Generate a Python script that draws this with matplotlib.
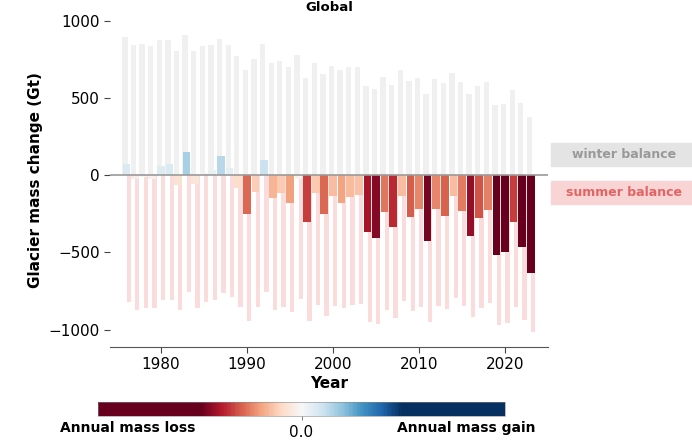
import numpy as np
import matplotlib
matplotlib.use("Agg")
import matplotlib.pyplot as plt
from matplotlib.colors import Normalize
from matplotlib.cm import ScalarMappable
from matplotlib.patches import Rectangle

# ---------- data (Gt) ----------
years = list(range(1976, 2024))

winter = [894, 840, 845, 836, 875, 875, 804, 909, 800, 836,
          840, 881, 842, 771, 681, 754, 851, 724, 737, 700,
          776, 631, 724, 651, 705, 679, 698, 700, 575, 554,
          633, 586, 679, 608, 631, 524, 623, 597, 659, 605,
          524, 577, 601, 452, 459, 552, 468, 379]

summer = [-823, -870, -858, -858, -810, -808, -870, -758, -860, -823,
          -808, -761, -791, -853, -942, -855, -756, -875, -853, -886,
          -802, -942, -843, -909, -845, -860, -840, -832, -948, -963,
          -875, -922, -817, -879, -853, -950, -845, -864, -795, -845,
          -916, -858, -830, -970, -957, -855, -937, -1015]

annual = [69, -28, -13, -22, 60, 69, -65, 149, -58, 13,
          30, 123, 45, -80, -254, -108, 95, -151, -118, -183,
          -24, -306, -118, -254, -136, -179, -140, -129, -371, -407,
          -239, -334, -138, -271, -218, -425, -218, -263, -138, -231,
          -392, -280, -224, -515, -496, -306, -467, -634]

yticks = [1000, 500, 0, -500, -1000]
xticks = [1980, 1990, 2000, 2010, 2020]

# ---------- figure ----------
fig = plt.figure(figsize=(6.92, 4.48), dpi=100)
ax = fig.add_axes([0.159, 0.226, 0.633, 0.742])

x = np.array(years, dtype=float)
cmap = plt.get_cmap("RdBu")
norm = Normalize(vmin=-445, vmax=445)

ax.bar(x - 0.17, winter, width=0.62, color="#f0f0f0", zorder=1)
ax.bar(x + 0.27, summer, width=0.5, color="#fadcdc", zorder=1)
ax.bar(x, annual, width=0.89, color=cmap(norm(np.array(annual))), zorder=2)
ax.axhline(0, color="#9a9a9a", lw=1.2, zorder=3)

ax.set_xlim(1974.1, 2025.0)
ax.set_ylim(-1110, 1040)
ax.set_xticks(xticks)
ax.set_yticks(yticks)
ax.tick_params(labelsize=11, colors="#444444", labelcolor="black", length=4)
for s in ["top", "right", "left"]:
    ax.spines[s].set_visible(False)
ax.spines["bottom"].set_color("#555555")

ax.set_title("Global", fontsize=9.5, fontweight="bold", pad=1)
ax.set_xlabel("Year", fontsize=11, fontweight="bold", labelpad=3)
ax.set_ylabel("Glacier mass change (Gt)", fontsize=11, fontweight="bold")

# side labels
fig.patches.append(Rectangle((551 / 692, 1 - 166 / 448), 150 / 692, 23 / 448,
                             transform=fig.transFigure, color="#e4e4e4", zorder=0))
fig.patches.append(Rectangle((551 / 692, 1 - 204 / 448), 150 / 692, 23 / 448,
                             transform=fig.transFigure, color="#f9d4d4", zorder=0))
fig.text(624 / 692, 1 - 155 / 448, "winter balance", ha="center", va="center",
         fontsize=9, fontweight="bold", color="#999999")
fig.text(624 / 692, 1 - 193 / 448, "summer balance", ha="center", va="center",
         fontsize=9, fontweight="bold", color="#e26464")

# colorbar
cax = fig.add_axes([98 / 692, 1 - 416 / 448, 407 / 692, 14 / 448])
sm = ScalarMappable(norm=norm, cmap=cmap)
cb = fig.colorbar(sm, cax=cax, orientation="horizontal",
                  boundaries=np.linspace(-900, 900, 301))
cb.set_ticks([0])
cb.set_ticklabels(["0.0"])
cb.ax.tick_params(labelsize=11, length=3, width=0.6, colors="#666666", labelcolor="black")
cb.outline.set_linewidth(0.4)
cb.outline.set_edgecolor("#888888")

fig.text(60 / 692, 1 - 428 / 448, "Annual mass loss", ha="left", va="center",
         fontsize=10, fontweight="bold")
fig.text(397 / 692, 1 - 428 / 448, "Annual mass gain", ha="left", va="center",
         fontsize=10, fontweight="bold")

fig.savefig("out.png", dpi=100)
